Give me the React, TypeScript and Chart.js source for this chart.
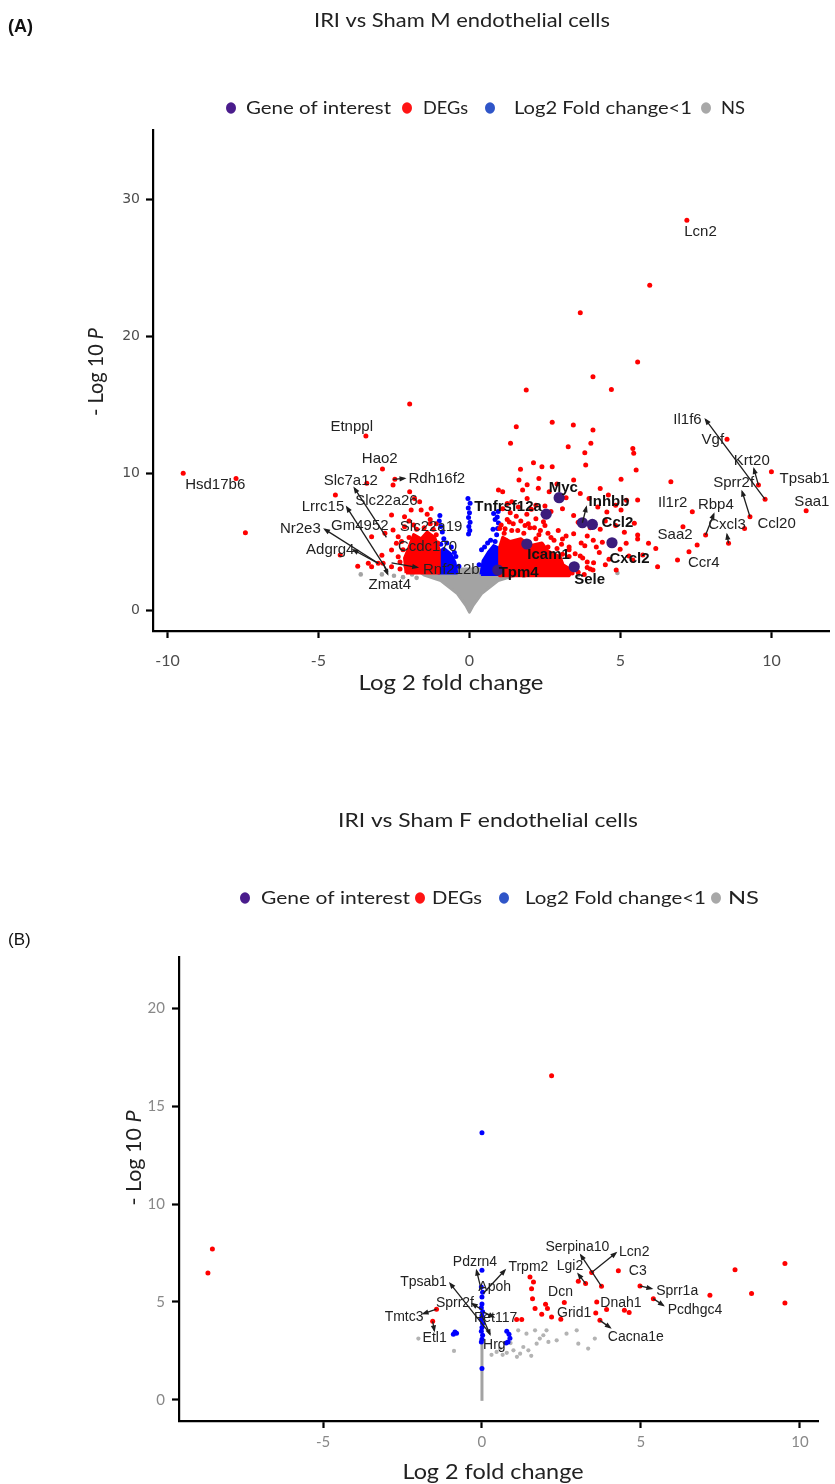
import React, { useEffect, useRef } from "react";
import { Chart, registerables } from "chart.js";

Chart.register(...registerables);

type Pt = [number, number];
type Label = [string, number, number, number];
type Conn = [number, number, number, number];

// ---------- shared ----------
const legendLabels = ["Gene of interest", "DEGs", "Log2 Fold change<1", "NS"];
const legendColors = ["#4a1c8c", "#ff1414", "#2f55c8", "#a8a8a8"];
const xAxisTitle = "Log 2 fold change";
const yAxisTitle = "- Log 10 ";
const yAxisTitleItalic = "P";

// ---------- Panel A ----------
const tagA = "(A)";
const titleA = "IRI vs Sham M endothelial cells";
const xTicksA = [-10, -5, 0, 5, 10];
const yTicksA = [0, 10, 20, 30];

const goiA: Pt[] = [
  [2.97, 8.2], [2.54, 7.0], [3.74, 6.37], [4.07, 6.25],
  [4.72, 4.91], [1.9, 4.82], [0.94, 2.92], [3.47, 3.16],
];

const degsA: Pt[] = [
  [7.2, 28.45], [5.97, 23.7], [3.67, 21.7], [5.57, 18.1],
  [4.09, 17.03], [1.88, 16.06], [4.7, 16.1],
  [1.55, 13.38], [2.74, 13.7], [3.44, 13.5], [4.09, 13.14],
  [1.36, 12.17], [3.27, 11.92], [4.02, 12.17], [5.41, 11.8], [5.44, 11.44],
  [3.82, 11.48], [3.85, 10.58], [2.12, 10.75], [2.4, 10.46], [2.74, 10.46], [1.69, 10.27], [5.52, 10.22],
  [5.02, 9.54], [4.33, 8.88], [6.67, 9.37],
  [8.53, 12.46], [10.0, 10.1], [9.57, 9.12], [9.79, 8.08], [11.15, 7.25],
  [7.38, 7.18], [7.07, 6.08], [7.82, 5.47], [7.54, 4.74], [7.27, 4.26], [6.89, 3.65],
  [6.23, 3.16], [6.17, 4.5], [5.93, 4.87], [9.29, 6.81], [8.58, 4.87], [9.11, 5.96],
  [5.57, 8.03], [5.02, 7.3], [5.46, 6.33], [5.57, 5.47], [5.19, 4.87], [5.74, 4.01],
  [5.41, 3.65], [4.86, 2.92], [4.09, 2.92],
  [1.64, 9.5], [1.91, 9.14], [1.76, 8.77], [2.28, 8.89], [2.64, 8.64], [1.91, 8.15],
  [1.4, 7.9], [1.62, 7.53], [2.2, 7.65], [3.45, 9.5], [3.67, 8.5], [3.96, 8.15],
  [4.25, 7.53], [4.55, 7.16], [4.84, 7.65], [5.2, 8.02], [3.08, 7.4], [3.45, 6.9],
  [4.33, 5.9], [4.84, 6.17], [5.13, 5.68], [4.4, 4.94], [3.82, 4.69], [4.99, 4.44],
  [5.28, 3.95], [5.57, 5.19], [4.62, 3.7], [4.11, 3.46], [3.67, 3.95], [3.08, 4.07],
  [2.94, 5.8], [2.5, 6.17], [2.2, 6.67], [1.84, 6.17], [1.32, 6.42], [1.18, 5.93],
  [1.1, 8.64], [0.96, 8.77], [1.25, 7.78], [3.08, 5.19], [3.45, 5.56],
  [3.5, 3.3], [3.9, 3.1], [4.3, 4.2], [3.3, 4.6], [2.7, 5.3], [2.3, 5.5], [1.6, 5.8],
  [1.2, 5.1], [2.9, 4.5], [3.4, 2.7], [4.5, 3.3], [3.9, 5.4], [4.0, 6.0], [3.6, 6.4],
  [4.5, 6.5], [2.7, 7.2], [1.9, 7.0], [2.5, 7.6], [3.2, 8.2], [2.3, 9.6], [2.9, 9.2], [4.6, 8.4],
  [1.05, 6.2], [1.25, 6.6], [1.45, 6.3], [1.7, 6.5], [1.95, 6.3], [2.15, 6.0], [2.35, 5.8],
  [2.6, 5.6], [2.8, 5.1], [3.05, 4.8], [3.3, 4.4], [3.5, 4.1], [3.75, 3.8], [3.9, 3.5],
  [3.3, 3.9], [2.2, 5.2], [1.8, 5.6], [1.4, 5.8], [1.15, 5.6], [2.6, 4.6], [2.9, 3.8],
  [3.6, 2.75], [3.8, 2.6], [4.0, 3.0], [1.0, 5.95], [2.0, 6.0], [2.45, 6.45], [3.2, 5.4],
  [3.7, 4.9], [4.2, 4.6], [4.1, 5.1], [1.35, 7.1], [1.1, 7.4], [2.05, 7.35], [1.55, 6.85],
  [-9.48, 9.98], [-7.73, 9.61], [-7.42, 5.64], [-1.98, 15.04], [-3.43, 12.7], [-2.88, 10.29],
  [-4.44, 8.39], [-3.4, 9.25], [-1.98, 8.64], [-1.82, 8.15], [-1.27, 7.42], [-2.58, 6.93],
  [-2.8, 5.6], [-3.24, 5.35], [-4.28, 4.01], [-3.35, 3.41], [-3.02, 3.41], [-2.86, 3.41],
  [-2.58, 4.38], [-2.36, 5.35], [-2.15, 6.81], [-1.93, 7.3], [-1.6, 7.3], [-2.53, 9.12],
  [-2.47, 9.54], [-1.65, 7.9], [-2.15, 6.08], [-2.53, 5.84], [-2.42, 4.87], [-2.36, 3.89],
  [-2.58, 3.16], [-3.24, 3.16], [-1.3, 6.6], [-1.1, 6.3], [-2.3, 3.0], [-2.0, 6.5],
  [-1.4, 7.0], [-2.9, 4.0], [-3.7, 3.2],
  [-1.2, 5.9], [-1.5, 6.0], [-1.75, 5.9], [-2.0, 5.3], [-2.2, 4.4], [-2.3, 3.5], [-2.1, 3.2],
  [-1.1, 5.5], [-1.3, 6.3], [-1.85, 6.2], [-2.25, 5.0], [-1.05, 4.9], [-2.05, 2.9],
];

const degsDenseA: Pt[][] = [
  [[1.0, 2.5], [3.3, 2.5], [3.4, 2.9], [3.1, 3.3], [3.0, 3.9], [2.6, 4.3], [2.4, 4.9],
    [2.0, 4.7], [1.7, 5.2], [1.35, 5.0], [1.1, 5.3], [1.0, 4.6]],
  [[-2.1, 2.7], [-1.0, 2.7], [-1.0, 4.4], [-1.15, 5.3], [-1.4, 5.7], [-1.6, 5.2],
    [-1.85, 5.5], [-2.0, 4.6], [-2.15, 3.8]],
];

const lowFcA: Pt[] = [
  [-0.05, 8.15], [0.02, 7.8], [-0.04, 7.45], [0.0, 7.1], [-0.03, 6.75], [0.02, 6.4],
  [-0.02, 6.1], [0.01, 5.8], [-0.03, 5.55],
  [0.95, 7.2], [0.92, 6.8], [0.96, 6.35], [0.93, 5.95], [0.9, 5.5], [0.8, 7.05], [0.85, 6.6], [0.78, 5.9],
  [-0.98, 6.9], [-1.0, 6.5], [-0.95, 6.1], [-0.9, 5.7], [-0.85, 5.2], [-0.75, 4.9],
  [-0.6, 4.6], [-0.5, 4.2], [-0.45, 3.9], [0.4, 4.4], [0.5, 4.6], [0.6, 4.9], [0.7, 5.1],
  [-0.35, 3.2], [0.32, 3.3], [0.85, 5.0], [-0.95, 4.8],
];

const lowFcDenseA: Pt[][] = [
  [[0.38, 2.6], [0.98, 2.6], [0.98, 4.5], [0.8, 4.7], [0.62, 4.2], [0.45, 3.6]],
  [[-1.02, 2.7], [-0.42, 2.7], [-0.48, 3.5], [-0.62, 4.1], [-0.85, 4.5], [-1.02, 4.2]],
];

const nsShapeA: Pt[] = [
  [-1.65, 2.8], [-1.5, 2.55], [-0.95, 2.15], [-0.4, 1.2], [-0.12, 0.35], [0, -0.15],
  [0.12, 0.35], [0.4, 1.2], [0.95, 2.15], [1.55, 2.55], [1.65, 2.8], [1.0, 3.0], [0, 3.0], [-1.0, 3.0],
];
const nsA: Pt[] = [
  [-2.9, 2.6], [-2.5, 2.5], [-2.2, 2.4], [-1.9, 2.6], [-1.75, 2.35], [1.8, 2.5],
  [2.1, 2.6], [3.6, 2.55], [4.9, 2.7], [-3.6, 2.6],
];

const labelsA: Label[] = [
  ["Lcn2", 7.65, 27.6, 0], ["Etnppl", -3.9, 13.38, 0], ["Hao2", -2.97, 11.0, 0],
  ["Hsd17b6", -8.42, 9.12, 0], ["Rdh16f2", -1.08, 9.54, 0], ["Slc7a12", -3.93, 9.42, 0],
  ["Slc22a26", -2.75, 7.96, 0], ["Lrrc15", -4.85, 7.54, 0], ["Nr2e3", -5.6, 5.89, 0],
  ["Gm4952", -3.63, 6.13, 0], ["Slc22a19", -1.27, 6.08, 0], ["Adgrg4", -4.61, 4.38, 0],
  ["Ccdc170", -1.39, 4.62, 0], ["Rnf212b", -0.6, 2.92, 0], ["Zmat4", -2.64, 1.82, 0],
  ["Myc", 3.11, 8.95, 1], ["Tnfrsf12a", 1.28, 7.54, 1], ["Inhbb", 4.62, 7.9, 1],
  ["Ccl2", 4.9, 6.37, 1], ["Icam1", 2.62, 4.0, 1], ["Cxcl2", 5.3, 3.77, 1],
  ["Tpm4", 1.63, 2.68, 1], ["Sele", 3.98, 2.19, 1],
  ["Il1f6", 7.22, 13.9, 0], ["Vgf", 8.06, 12.4, 0], ["Krt20", 9.35, 10.9, 0],
  ["Tpsab1", 11.1, 9.6, 0], ["Sprr2f", 8.75, 9.25, 0], ["Il1r2", 6.73, 7.79, 0],
  ["Rbp4", 8.16, 7.66, 0], ["Ccl20", 10.17, 6.28, 0], ["Saa1", 11.34, 7.9, 0],
  ["Cxcl3", 8.53, 6.2, 0], ["Saa2", 6.81, 5.47, 0], ["Ccr4", 7.76, 3.41, 0],
];

const connectorsA: Conn[] = [
  [9.79, 8.08, 7.82, 13.9], [9.57, 9.12, 9.42, 10.3], [9.29, 6.81, 9.03, 8.65],
  [7.82, 5.47, 8.09, 7.0], [8.58, 4.87, 8.53, 5.5], [3.74, 6.37, 3.87, 7.5],
  [-2.75, 5.3, -3.81, 8.9], [-2.7, 2.8, -4.06, 7.5], [-3.02, 3.41, -4.79, 5.89],
  [-3.02, 3.41, -3.84, 4.38], [-2.86, 3.41, -2.71, 2.63], [-2.53, 9.54, -2.15, 9.61],
  [-2.58, 3.45, -1.73, 3.11],
];

// ---------- Panel B ----------
const tagB = "(B)";
const titleB = "IRI vs Sham F endothelial cells";
const xTicksB = [-5, 0, 5, 10];
const yTicksB = [0, 5, 10, 15, 20];

const goiB: Pt[] = [];

const degsB: Pt[] = [
  [2.19, 16.55], [-8.48, 7.7], [-8.62, 6.48], [9.53, 6.96], [9.53, 4.95], [7.96, 6.65],
  [8.48, 5.43], [7.17, 5.34], [4.29, 6.59], [4.97, 5.82], [5.39, 5.17], [3.76, 5.8],
  [3.45, 6.5], [3.03, 6.06], [3.26, 5.94], [3.61, 5.0], [3.92, 4.61], [3.58, 4.44],
  [3.71, 4.06], [4.48, 4.58], [4.63, 4.46], [2.59, 4.97], [2.48, 4.12], [2.19, 4.23],
  [2.0, 4.88], [2.06, 4.66], [1.88, 4.37], [1.51, 6.28], [1.62, 6.02], [1.56, 5.68],
  [1.59, 5.17], [1.67, 4.66], [1.09, 4.1], [1.25, 4.1], [-1.43, 4.63], [-1.55, 4.01],
];

const lowFcB: Pt[] = [
  [0, 13.64], [0, 6.62], [-0.02, 5.77], [0.02, 5.5], [0, 5.25], [0, 4.9], [-0.02, 4.7],
  [0.02, 4.5], [0, 4.3], [-0.02, 4.1], [0.02, 3.9], [0, 3.7], [-0.02, 3.5], [0.02, 3.3],
  [0, 3.1], [-0.02, 2.95], [-0.85, 3.47], [-0.9, 3.35], [-0.8, 3.4], [0.78, 3.5],
  [0.85, 3.35], [0.88, 3.15], [0.82, 2.95], [0.76, 2.9], [0, 1.6],
];

const nsBarB: Pt[] = [[0, -0.05], [0, 3.0]];
const nsB: Pt[] = [
  [-2.0, 3.13], [-0.88, 2.5], [1.14, 3.55], [1.4, 3.38], [1.67, 3.55], [1.93, 3.3],
  [2.03, 3.55], [1.72, 2.87], [2.09, 2.96], [1.3, 2.7], [0.99, 2.53], [0.46, 2.45],
  [0.57, 2.62], [0.78, 2.4], [1.2, 2.36], [1.46, 2.53], [2.98, 3.55], [3.03, 2.87],
  [3.34, 2.62], [3.55, 3.13], [2.66, 3.38], [2.35, 3.04], [1.82, 3.13], [0.3, 2.3],
  [0.65, 2.3], [0.9, 2.9], [1.1, 2.2], [1.55, 2.25],
];

const labelsB: Label[] = [
  ["Pdzrn4", -0.22, 7.05, 0], ["Trpm2", 1.46, 6.79, 0], ["Apoh", 0.4, 5.77, 0],
  ["Tpsab1", -1.84, 6.02, 0], ["Sprr2f", -0.85, 4.95, 0], ["Pet117", 0.43, 4.15, 0],
  ["Tmtc3", -2.45, 4.24, 0], ["Etl1", -1.49, 3.13, 0], ["Hrg", 0.39, 2.79, 0],
  ["Serpina10", 3.0, 7.81, 0], ["Lcn2", 4.79, 7.56, 0], ["Lgi2", 2.77, 6.82, 0],
  ["C3", 4.9, 6.59, 0], ["Dcn", 2.47, 5.51, 0], ["Grid1", 2.9, 4.44, 0],
  ["Dnah1", 4.37, 4.95, 0], ["Cacna1e", 4.84, 3.18, 0], ["Sprr1a", 6.14, 5.55, 0],
  ["Pcdhgc4", 6.7, 4.58, 0],
];

const connectorsB: Conn[] = [
  [-0.02, 5.6, -0.17, 6.6], [0.04, 5.43, 0.72, 6.62], [0.25, 3.38, -1.0, 5.94],
  [0.0, 4.6, -0.3, 4.9], [0.04, 4.49, 0.36, 4.24], [-1.43, 4.63, -1.84, 4.41],
  [-1.55, 4.01, -1.5, 3.55], [0.0, 4.3, 0.25, 3.35], [3.76, 5.8, 3.11, 7.39],
  [3.45, 6.5, 4.21, 7.5], [3.26, 5.94, 3.03, 6.42], [3.71, 4.06, 4.03, 3.69],
  [4.97, 5.82, 5.33, 5.68], [5.39, 5.17, 5.7, 4.83],
];

// ---------- rendering ----------
const W = 835;
const C_PURPLE = "#3c1d7c";
const C_RED = "#ff0000";
const C_BLUE = "#0000ff";
const C_GRAY = "#a3a3a3";
const SANS = "Lato, 'Open Sans', sans-serif";
const ARIAL = "'Liberation Sans', Arial, sans-serif";

interface PanelSpec {
  height: number;
  area: { left: number; right: number; top: number; bottom: number };
  x: [number, number];
  y: [number, number];
  xTicks: number[];
  yTicks: number[];
  xTickFont: any; yTickFont: any; tickColor: string;
  xTickPad: number; yTickPad: number; tickLen: number;
  datasets: any[];
  labels: Label[];
  connectors: Conn[];
  labelSize: number;
  tag: [string, number, number, string];
  title: [string, number, number, number];
  legendY: number;
  legendDots: number[];
  legendText: [number, number][];
  xTitle: [number, number, number];
  yTitle: [number, number, number];
}

const toXY = (pts: Pt[]) => pts.map(([x, y]) => ({ x, y }));

function pointsDs(pts: Pt[], color: string, r: number, order: number) {
  return {
    type: "scatter", data: toXY(pts), backgroundColor: color, borderColor: color,
    pointRadius: r, pointBorderWidth: 0, pointHoverRadius: r, order,
  };
}
function shapeDs(poly: Pt[], color: string, order: number) {
  return {
    type: "line", data: toXY([...poly, poly[0]]), fill: "shape", backgroundColor: color,
    borderColor: color, borderWidth: 3, borderJoinStyle: "round", pointRadius: 0, tension: 0, order,
  };
}
function barDs(pts: Pt[], color: string, w: number, order: number) {
  return {
    type: "line", data: toXY(pts), fill: false, borderColor: color, borderWidth: w,
    pointRadius: 0, tension: 0, order,
  };
}

function fitText(ctx: CanvasRenderingContext2D, text: string, x: number, y: number, font: string,
  color: string, width: number, align: "left" | "center") {
  ctx.save();
  ctx.font = font;
  const m = ctx.measureText(text).width;
  const s = width > 0 ? width / m : 1;
  ctx.translate(x, y);
  ctx.scale(s, 1);
  ctx.fillStyle = color;
  ctx.textBaseline = "middle";
  ctx.textAlign = align;
  ctx.fillText(text, 0, 0);
  ctx.restore();
}

function decor(p: PanelSpec) {
  return {
    id: "decor",
    afterDraw(chart: any) {
      const ctx: CanvasRenderingContext2D = chart.ctx;
      const xs = chart.scales.x, ys = chart.scales.y;
      ctx.save();
      ctx.strokeStyle = "#1e1e1e";
      ctx.fillStyle = "#1e1e1e";
      ctx.lineWidth = 1.3;
      for (const [x1, y1, x2, y2] of p.connectors) {
        const a = xs.getPixelForValue(x1), b = ys.getPixelForValue(y1);
        const c = xs.getPixelForValue(x2), d = ys.getPixelForValue(y2);
        ctx.beginPath(); ctx.moveTo(a, b); ctx.lineTo(c, d); ctx.stroke();
        const ang = Math.atan2(d - b, c - a);
        ctx.beginPath();
        ctx.moveTo(c + 2 * Math.cos(ang), d + 2 * Math.sin(ang));
        ctx.lineTo(c - 5 * Math.cos(ang) + 2.6 * Math.sin(ang), d - 5 * Math.sin(ang) - 2.6 * Math.cos(ang));
        ctx.lineTo(c - 5 * Math.cos(ang) - 2.6 * Math.sin(ang), d - 5 * Math.sin(ang) + 2.6 * Math.cos(ang));
        ctx.closePath(); ctx.fill();
      }
      ctx.textAlign = "center";
      ctx.textBaseline = "middle";
      for (const [t, x, y, b] of p.labels) {
        ctx.font = `${b ? "bold " : ""}${p.labelSize}px ${ARIAL}`;
        ctx.fillStyle = b ? "#111" : "#222";
        ctx.fillText(t, xs.getPixelForValue(x), ys.getPixelForValue(y));
      }
      ctx.restore();

      const [tg, tx, ty, tf] = p.tag;
      fitText(ctx, tg, tx, ty, tf, "#111", 0, "left");
      const [tt, cx, cy, tw] = p.title;
      fitText(ctx, tt, cx, cy, `20px ${SANS}`, "#222", tw, "center");
      for (let i = 0; i < legendLabels.length; i++) {
        ctx.beginPath();
        ctx.fillStyle = legendColors[i];
        ctx.ellipse(p.legendDots[i], p.legendY, 5, 5.8, 0, 0, Math.PI * 2);
        ctx.fill();
        const [lx, lw] = p.legendText[i];
        fitText(ctx, legendLabels[i], lx, p.legendY, `18px ${SANS}`, "#222", lw, "left");
      }
      const [xcx, xcy, xw] = p.xTitle;
      fitText(ctx, xAxisTitle, xcx, xcy, `21px ${SANS}`, "#222", xw, "center");
      const [ycx, ycy, yl] = p.yTitle;
      ctx.save();
      ctx.font = `21px ${SANS}`;
      const w1 = ctx.measureText(yAxisTitle).width;
      ctx.font = `italic 21px ${SANS}`;
      const w2 = ctx.measureText(yAxisTitleItalic).width;
      const s = yl / (w1 + w2);
      ctx.translate(ycx, ycy);
      ctx.rotate(-Math.PI / 2);
      ctx.scale(s, 1);
      ctx.fillStyle = "#222";
      ctx.textBaseline = "middle";
      ctx.textAlign = "left";
      ctx.font = `21px ${SANS}`;
      ctx.fillText(yAxisTitle, -(w1 + w2) / 2, 0);
      ctx.font = `italic 21px ${SANS}`;
      ctx.fillText(yAxisTitleItalic, -(w1 + w2) / 2 + w1, 0);
      ctx.restore();
    },
  };
}

function buildConfig(p: PanelSpec): any {
  const grid = { display: true, drawOnChartArea: false, drawTicks: true, tickLength: p.tickLen, tickWidth: 2.2, tickColor: "#000", color: "#000" };
  const border = { display: true, color: "#000", width: 2.2 };
  return {
    type: "scatter",
    data: { datasets: p.datasets },
    options: {
      responsive: false, animation: false, events: [], devicePixelRatio: 1,
      layout: { padding: { left: 0, top: p.area.top, right: W - p.area.right, bottom: 0 } },
      plugins: { legend: { display: false }, tooltip: { enabled: false }, title: { display: false } },
      scales: {
        x: {
          type: "linear", min: p.x[0], max: p.x[1],
          afterFit: (s: any) => { s.height = p.height - p.area.bottom; },
          afterBuildTicks: (s: any) => { s.ticks = p.xTicks.map((v) => ({ value: v })); },
          ticks: { font: p.xTickFont, color: p.tickColor, padding: p.xTickPad, maxRotation: 0, callback: (v: any) => String(v) },
          grid, border,
        },
        y: {
          type: "linear", min: p.y[0], max: p.y[1],
          afterFit: (s: any) => { s.width = p.area.left; },
          afterBuildTicks: (s: any) => { s.ticks = p.yTicks.map((v) => ({ value: v })); },
          ticks: { font: p.yTickFont, color: p.tickColor, padding: p.yTickPad, callback: (v: any) => String(v) },
          grid, border,
        },
      },
    },
    plugins: [decor(p)],
  };
}

const panelA: PanelSpec = {
  height: 740,
  area: { left: 153, right: 835, top: 130, bottom: 631 },
  x: [-10.48, 11.92],
  y: [-1.53, 35.04],
  xTicks: xTicksA, yTicks: yTicksA,
  xTickFont: { family: SANS, size: 16 }, yTickFont: { family: "'DejaVu Sans', sans-serif", size: 14 },
  tickColor: "#4d4d4d", xTickPad: 13, yTickPad: 6, tickLen: 7,
  datasets: [
    pointsDs(goiA, C_PURPLE, 5.6, 1),
    pointsDs(degsA, C_RED, 2.5, 2),
    ...degsDenseA.map((poly) => shapeDs(poly, C_RED, 3)),
    pointsDs(lowFcA, C_BLUE, 2.5, 4),
    ...lowFcDenseA.map((poly) => shapeDs(poly, C_BLUE, 5)),
    pointsDs(nsA, C_GRAY, 2.3, 6),
    shapeDs(nsShapeA, C_GRAY, 7),
  ],
  labels: labelsA, connectors: connectorsA, labelSize: 15,
  tag: [tagA, 8, 27, `bold 18px ${ARIAL}`],
  title: [titleA, 462, 21, 296],
  legendY: 108,
  legendDots: [231, 407, 490, 706],
  legendText: [[246, 145], [423, 45], [514, 178], [721, 24]],
  xTitle: [451, 683, 185],
  yTitle: [96, 372, 88],
};

const panelB: PanelSpec = {
  height: 724,
  area: { left: 179, right: 818, top: 197, bottom: 661 },
  x: [-9.53, 10.57],
  y: [-1.08, 22.62],
  xTicks: xTicksB, yTicks: yTicksB,
  xTickFont: { family: SANS, size: 15 }, yTickFont: { family: SANS, size: 15 },
  tickColor: "#888", xTickPad: 5, yTickPad: 7, tickLen: 7,
  datasets: [
    pointsDs(goiB, C_PURPLE, 5.6, 1),
    pointsDs(degsB, C_RED, 2.5, 2),
    pointsDs(lowFcB, C_BLUE, 2.5, 4),
    pointsDs(nsB, "#b3b3b3", 2.1, 6),
    barDs(nsBarB, C_GRAY, 3, 7),
  ],
  labels: labelsB, connectors: connectorsB, labelSize: 14,
  tag: [tagB, 8, 180, `17px ${ARIAL}`],
  title: [titleB, 488, 61, 300],
  legendY: 138,
  legendDots: [245, 420, 504, 716],
  legendText: [[261, 149], [432, 50], [525, 181], [728, 31]],
  xTitle: [493, 712, 181],
  yTitle: [134, 398, 95],
};

export default function App() {
  const refA = useRef<HTMLCanvasElement>(null);
  const refB = useRef<HTMLCanvasElement>(null);
  useEffect(() => {
    const a = new Chart(refA.current as HTMLCanvasElement, buildConfig(panelA));
    const b = new Chart(refB.current as HTMLCanvasElement, buildConfig(panelB));
    return () => { a.destroy(); b.destroy(); };
  }, []);
  return (
    <div style={{ position: "absolute", left: 0, top: 0, width: W, height: 1484, background: "#fff" }}>
      <canvas ref={refA} width={W} height={740} style={{ position: "absolute", left: 0, top: 0 }} />
      <canvas ref={refB} width={W} height={724} style={{ position: "absolute", left: 0, top: 760 }} />
    </div>
  );
}
